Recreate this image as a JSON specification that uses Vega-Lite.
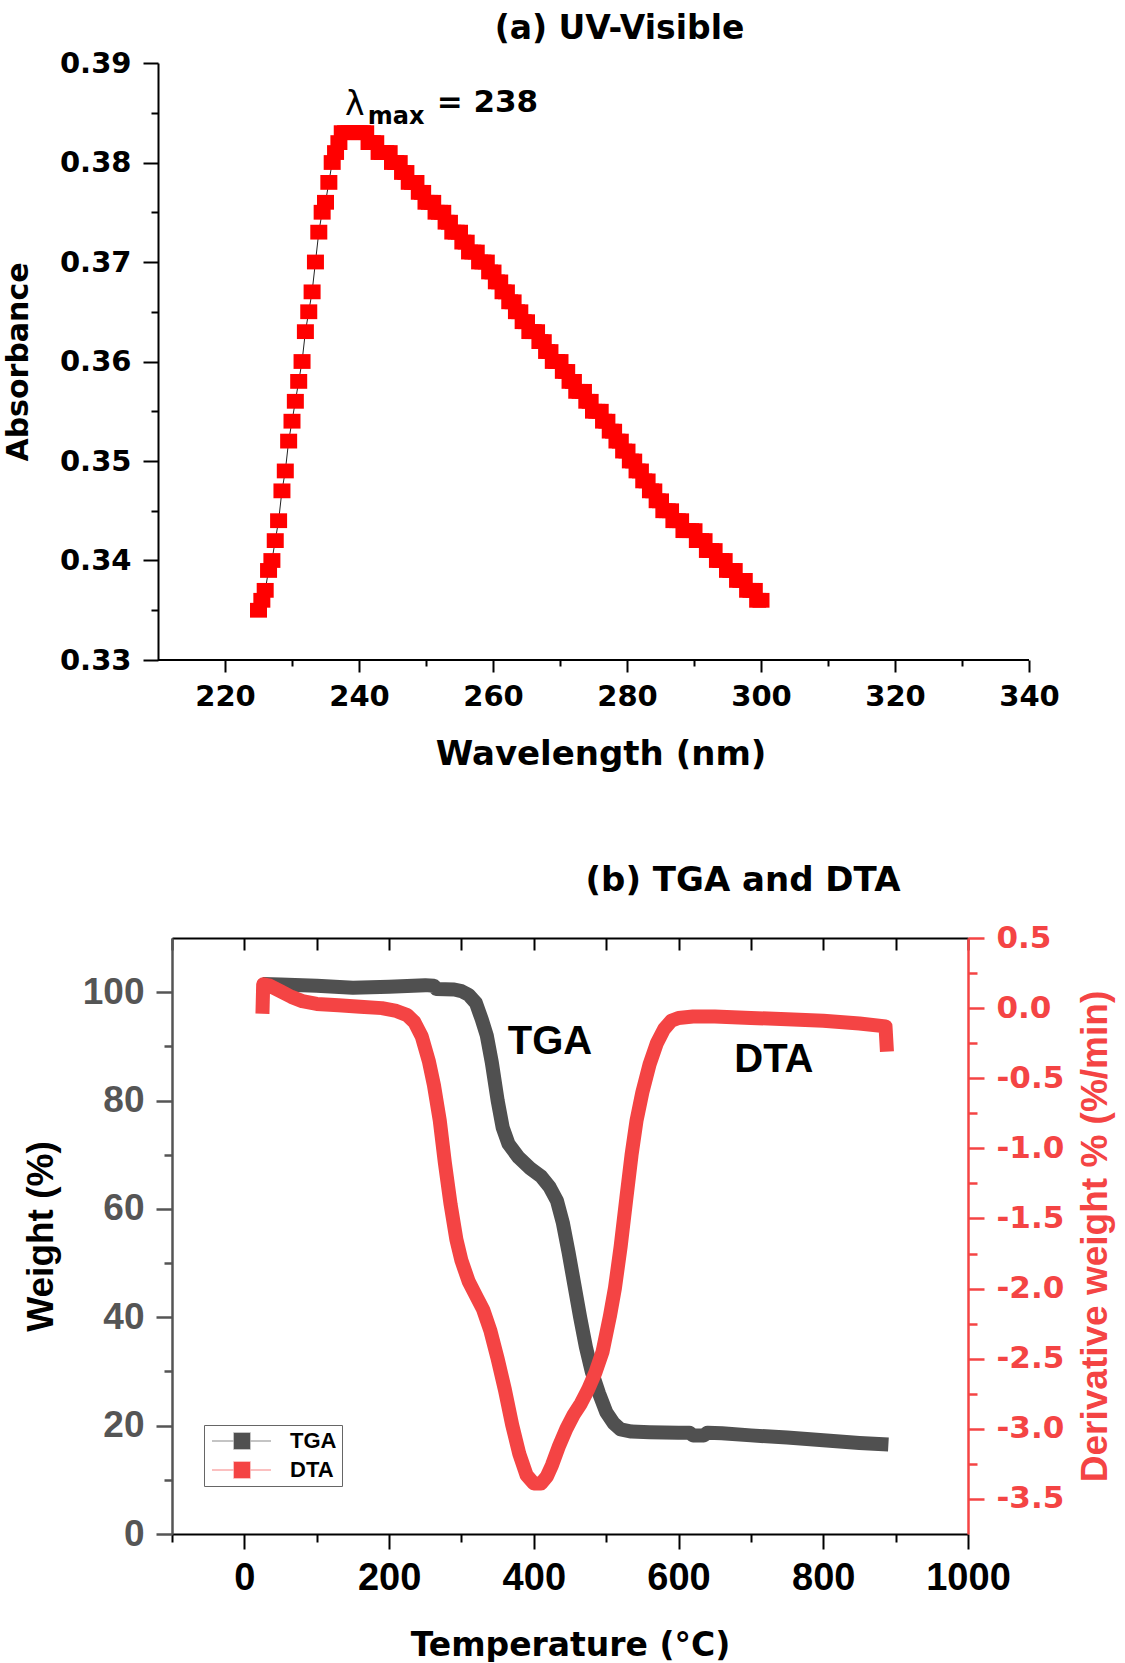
{
  "$schema": "https://vega.github.io/schema/vega-lite/v6.json",
  "background": "white",
  "padding": {"left": 3, "top": 13, "right": 3, "bottom": 0},
  "spacing": 93,
  "config": {
    "view": {"stroke": null},
    "axis": {"grid": false, "labelFlush": false, "labelOverlap": false}
  },
  "datasets": {
    "uv": [
      {"nm": 225, "abs": 0.335}, {"nm": 225.5, "abs": 0.336}, {"nm": 226, "abs": 0.337}, {"nm": 226.5, "abs": 0.339},
      {"nm": 227, "abs": 0.340}, {"nm": 227.5, "abs": 0.342}, {"nm": 228, "abs": 0.344}, {"nm": 228.5, "abs": 0.347},
      {"nm": 229, "abs": 0.349}, {"nm": 229.5, "abs": 0.352}, {"nm": 230, "abs": 0.354}, {"nm": 230.5, "abs": 0.356},
      {"nm": 231, "abs": 0.358}, {"nm": 231.5, "abs": 0.360}, {"nm": 232, "abs": 0.363}, {"nm": 232.5, "abs": 0.365},
      {"nm": 233, "abs": 0.367}, {"nm": 233.5, "abs": 0.370}, {"nm": 234, "abs": 0.373}, {"nm": 234.5, "abs": 0.375},
      {"nm": 235, "abs": 0.376}, {"nm": 235.5, "abs": 0.378}, {"nm": 236, "abs": 0.380}, {"nm": 236.5, "abs": 0.381},
      {"nm": 237, "abs": 0.382}, {"nm": 237.5, "abs": 0.383}, {"nm": 238, "abs": 0.383}, {"nm": 238.5, "abs": 0.383},
      {"nm": 239, "abs": 0.383}, {"nm": 239.5, "abs": 0.383}, {"nm": 240, "abs": 0.383}, {"nm": 240.5, "abs": 0.383},
      {"nm": 241, "abs": 0.383}, {"nm": 241.5, "abs": 0.382}, {"nm": 242, "abs": 0.382}, {"nm": 242.5, "abs": 0.382},
      {"nm": 243, "abs": 0.381}, {"nm": 243.5, "abs": 0.381}, {"nm": 244, "abs": 0.381}, {"nm": 244.5, "abs": 0.381},
      {"nm": 245, "abs": 0.380}, {"nm": 245.5, "abs": 0.380}, {"nm": 246, "abs": 0.380}, {"nm": 246.5, "abs": 0.379},
      {"nm": 247, "abs": 0.379}, {"nm": 247.5, "abs": 0.378}, {"nm": 248, "abs": 0.378}, {"nm": 248.5, "abs": 0.378},
      {"nm": 249, "abs": 0.377}, {"nm": 249.5, "abs": 0.377}, {"nm": 250, "abs": 0.376}, {"nm": 250.5, "abs": 0.376},
      {"nm": 251, "abs": 0.376}, {"nm": 251.5, "abs": 0.375}, {"nm": 252, "abs": 0.375}, {"nm": 252.5, "abs": 0.375},
      {"nm": 253, "abs": 0.374}, {"nm": 253.5, "abs": 0.374}, {"nm": 254, "abs": 0.373}, {"nm": 254.5, "abs": 0.373},
      {"nm": 255, "abs": 0.373}, {"nm": 255.5, "abs": 0.372}, {"nm": 256, "abs": 0.372}, {"nm": 256.5, "abs": 0.371},
      {"nm": 257, "abs": 0.371}, {"nm": 257.5, "abs": 0.371}, {"nm": 258, "abs": 0.370}, {"nm": 258.5, "abs": 0.370},
      {"nm": 259, "abs": 0.370}, {"nm": 259.5, "abs": 0.369}, {"nm": 260, "abs": 0.369}, {"nm": 260.5, "abs": 0.368},
      {"nm": 261, "abs": 0.368}, {"nm": 261.5, "abs": 0.367}, {"nm": 262, "abs": 0.367}, {"nm": 262.5, "abs": 0.366},
      {"nm": 263, "abs": 0.366}, {"nm": 263.5, "abs": 0.365}, {"nm": 264, "abs": 0.365}, {"nm": 264.5, "abs": 0.364},
      {"nm": 265, "abs": 0.364}, {"nm": 265.5, "abs": 0.363}, {"nm": 266, "abs": 0.363}, {"nm": 266.5, "abs": 0.363},
      {"nm": 267, "abs": 0.362}, {"nm": 267.5, "abs": 0.362}, {"nm": 268, "abs": 0.361}, {"nm": 268.5, "abs": 0.361},
      {"nm": 269, "abs": 0.360}, {"nm": 269.5, "abs": 0.360}, {"nm": 270, "abs": 0.360}, {"nm": 270.5, "abs": 0.359},
      {"nm": 271, "abs": 0.359}, {"nm": 271.5, "abs": 0.358}, {"nm": 272, "abs": 0.358}, {"nm": 272.5, "abs": 0.357},
      {"nm": 273, "abs": 0.357}, {"nm": 273.5, "abs": 0.357}, {"nm": 274, "abs": 0.356}, {"nm": 274.5, "abs": 0.356},
      {"nm": 275, "abs": 0.355}, {"nm": 275.5, "abs": 0.355}, {"nm": 276, "abs": 0.355}, {"nm": 276.5, "abs": 0.354},
      {"nm": 277, "abs": 0.354}, {"nm": 277.5, "abs": 0.353}, {"nm": 278, "abs": 0.353}, {"nm": 278.5, "abs": 0.352},
      {"nm": 279, "abs": 0.352}, {"nm": 279.5, "abs": 0.351}, {"nm": 280, "abs": 0.351}, {"nm": 280.5, "abs": 0.350},
      {"nm": 281, "abs": 0.350}, {"nm": 281.5, "abs": 0.349}, {"nm": 282, "abs": 0.349}, {"nm": 282.5, "abs": 0.348},
      {"nm": 283, "abs": 0.348}, {"nm": 283.5, "abs": 0.347}, {"nm": 284, "abs": 0.347}, {"nm": 284.5, "abs": 0.346},
      {"nm": 285, "abs": 0.346}, {"nm": 285.5, "abs": 0.345}, {"nm": 286, "abs": 0.345}, {"nm": 286.5, "abs": 0.345},
      {"nm": 287, "abs": 0.344}, {"nm": 287.5, "abs": 0.344}, {"nm": 288, "abs": 0.344}, {"nm": 288.5, "abs": 0.343},
      {"nm": 289, "abs": 0.343}, {"nm": 289.5, "abs": 0.343}, {"nm": 290, "abs": 0.343}, {"nm": 290.5, "abs": 0.342},
      {"nm": 291, "abs": 0.342}, {"nm": 291.5, "abs": 0.342}, {"nm": 292, "abs": 0.341}, {"nm": 292.5, "abs": 0.341},
      {"nm": 293, "abs": 0.341}, {"nm": 293.5, "abs": 0.340}, {"nm": 294, "abs": 0.340}, {"nm": 294.5, "abs": 0.340},
      {"nm": 295, "abs": 0.339}, {"nm": 295.5, "abs": 0.339}, {"nm": 296, "abs": 0.339}, {"nm": 296.5, "abs": 0.338},
      {"nm": 297, "abs": 0.338}, {"nm": 297.5, "abs": 0.338}, {"nm": 298, "abs": 0.337}, {"nm": 298.5, "abs": 0.337},
      {"nm": 299, "abs": 0.337}, {"nm": 299.5, "abs": 0.336}, {"nm": 300, "abs": 0.336}
    ],
    "tga": [
      {"T": 25, "W": 101.5}, {"T": 50, "W": 101.4}, {"T": 100, "W": 101.2}, {"T": 150, "W": 100.8},
      {"T": 200, "W": 101.0}, {"T": 250, "W": 101.3}, {"T": 262, "W": 101.2}, {"T": 265, "W": 100.6},
      {"T": 290, "W": 100.5}, {"T": 300, "W": 100.2}, {"T": 310, "W": 99.5}, {"T": 320, "W": 98.0},
      {"T": 328, "W": 95.0}, {"T": 335, "W": 92.0}, {"T": 342, "W": 87.0}, {"T": 350, "W": 80.0},
      {"T": 357, "W": 75.0}, {"T": 365, "W": 72.0}, {"T": 379, "W": 69.5}, {"T": 395, "W": 67.5},
      {"T": 410, "W": 66.0}, {"T": 422, "W": 64.0}, {"T": 432, "W": 61.5}, {"T": 440, "W": 57.5},
      {"T": 448, "W": 52.0}, {"T": 456, "W": 46.0}, {"T": 464, "W": 40.0}, {"T": 472, "W": 34.5},
      {"T": 480, "W": 30.0}, {"T": 490, "W": 26.0}, {"T": 500, "W": 22.5}, {"T": 510, "W": 20.5},
      {"T": 520, "W": 19.3}, {"T": 535, "W": 18.9}, {"T": 560, "W": 18.8}, {"T": 600, "W": 18.7},
      {"T": 615, "W": 18.7}, {"T": 620, "W": 18.2}, {"T": 635, "W": 18.2}, {"T": 640, "W": 18.7},
      {"T": 660, "W": 18.6}, {"T": 700, "W": 18.2}, {"T": 750, "W": 17.8}, {"T": 800, "W": 17.3},
      {"T": 850, "W": 16.8}, {"T": 890, "W": 16.5}
    ],
    "dta": [
      {"T": 25, "D": -0.04}, {"T": 26, "D": 0.17}, {"T": 35, "D": 0.16}, {"T": 50, "D": 0.12},
      {"T": 65, "D": 0.08}, {"T": 80, "D": 0.05}, {"T": 100, "D": 0.03}, {"T": 130, "D": 0.02},
      {"T": 160, "D": 0.01}, {"T": 190, "D": 0.0}, {"T": 210, "D": -0.02}, {"T": 225, "D": -0.05},
      {"T": 235, "D": -0.1}, {"T": 245, "D": -0.2}, {"T": 255, "D": -0.38}, {"T": 262, "D": -0.55},
      {"T": 270, "D": -0.8}, {"T": 277, "D": -1.1}, {"T": 285, "D": -1.4}, {"T": 293, "D": -1.65},
      {"T": 300, "D": -1.8}, {"T": 310, "D": -1.95}, {"T": 320, "D": -2.05}, {"T": 330, "D": -2.15},
      {"T": 340, "D": -2.3}, {"T": 350, "D": -2.5}, {"T": 360, "D": -2.72}, {"T": 370, "D": -2.97},
      {"T": 380, "D": -3.18}, {"T": 390, "D": -3.33}, {"T": 400, "D": -3.39}, {"T": 410, "D": -3.39},
      {"T": 418, "D": -3.34}, {"T": 425, "D": -3.26}, {"T": 435, "D": -3.12}, {"T": 445, "D": -3.0},
      {"T": 455, "D": -2.9}, {"T": 465, "D": -2.82}, {"T": 475, "D": -2.72}, {"T": 485, "D": -2.6},
      {"T": 495, "D": -2.45}, {"T": 505, "D": -2.2}, {"T": 512, "D": -2.0}, {"T": 520, "D": -1.7},
      {"T": 528, "D": -1.35}, {"T": 535, "D": -1.05}, {"T": 542, "D": -0.8}, {"T": 550, "D": -0.6},
      {"T": 560, "D": -0.4}, {"T": 570, "D": -0.25}, {"T": 580, "D": -0.15}, {"T": 590, "D": -0.09},
      {"T": 600, "D": -0.07}, {"T": 620, "D": -0.06}, {"T": 650, "D": -0.06}, {"T": 700, "D": -0.07},
      {"T": 750, "D": -0.08}, {"T": 800, "D": -0.09}, {"T": 850, "D": -0.11}, {"T": 886, "D": -0.13},
      {"T": 888, "D": -0.31}
    ]
  },
  "vconcat": [
    {
      "width": 857,
      "height": 597,
      "title": {"text": "(a) UV-Visible", "font": "DejaVu Sans", "fontSize": 33, "fontWeight": "bold", "color": "black", "anchor": "middle", "frame": "group", "dx": 19, "offset": 3},
      "resolve": {"axis": {"x": "independent", "y": "independent"}},
      "layer": [
        {
          "data": {"name": "uv"},
          "mark": {"type": "line", "color": "#222222", "strokeWidth": 1},
          "encoding": {
            "x": {"field": "nm", "type": "quantitative", "scale": {"domain": [212.09, 340], "nice": false, "zero": false},
              "axis": {"orient": "bottom", "values": [220, 240, 260, 280, 300, 320, 340], "tickSize": 12, "tickWidth": 2, "tickColor": "black", "domain": false,
                "labelFont": "DejaVu Sans", "labelFontSize": 29, "labelFontWeight": "bold", "labelColor": "black", "labelPadding": 10,
                "title": "Wavelength (nm)", "titleFont": "DejaVu Sans", "titleFontSize": 34, "titleFontWeight": "bold", "titleColor": "black", "titlePadding": 26}},
            "y": {"field": "abs", "type": "quantitative", "scale": {"domain": [0.33, 0.39], "nice": false, "zero": false},
              "axis": {"orient": "left", "offset": 14, "values": [0.33, 0.34, 0.35, 0.36, 0.37, 0.38, 0.39], "format": ".2f", "tickSize": 15, "tickWidth": 2, "tickColor": "black", "domainWidth": 2, "domainColor": "black",
                "labelFont": "DejaVu Sans", "labelFontSize": 29, "labelFontWeight": "bold", "labelColor": "black", "labelPadding": 12,
                "title": "Absorbance", "titleFont": "DejaVu Sans", "titleFontSize": 30, "titleFontWeight": "bold", "titleColor": "black", "titlePadding": 26}}
          }
        },
        {
          "data": {"name": "uv"},
          "mark": {"type": "point", "shape": "M-1,-0.87H1V0.87H-1Z", "filled": true, "color": "#ff0000", "size": 289, "opacity": 1},
          "encoding": {
            "x": {"field": "nm", "type": "quantitative",
              "axis": {"orient": "bottom", "values": [210, 230, 250, 270, 290, 310, 330], "tickSize": 6, "tickWidth": 2, "tickColor": "black", "domain": false, "labels": false, "title": null}},
            "y": {"field": "abs", "type": "quantitative",
              "axis": {"orient": "left", "offset": 14, "values": [0.335, 0.345, 0.355, 0.365, 0.375, 0.385], "tickSize": 7, "tickWidth": 2, "tickColor": "black", "domain": false, "labels": false, "title": null}}
          }
        },
        {
          "data": {"values": [{}]},
          "mark": {"type": "rule", "color": "black", "strokeWidth": 2},
          "encoding": {"x": {"datum": 210, "type": "quantitative", "axis": null}, "x2": {"datum": 340}, "y": {"datum": 0.33, "type": "quantitative", "axis": null}}
        },
        {
          "data": {"values": [{}]},
          "mark": {"type": "text", "text": "λ", "font": "DejaVu Sans", "fontSize": 33, "align": "left", "baseline": "alphabetic", "color": "black"},
          "encoding": {"x": {"datum": 237.9, "type": "quantitative", "axis": null}, "y": {"datum": 0.3848, "type": "quantitative", "axis": null}}
        },
        {
          "data": {"values": [{}]},
          "mark": {"type": "text", "text": "max", "font": "DejaVu Sans", "fontSize": 24, "fontWeight": "bold", "align": "left", "baseline": "alphabetic", "color": "black"},
          "encoding": {"x": {"datum": 241.3, "type": "quantitative", "axis": null}, "y": {"datum": 0.3839, "type": "quantitative", "axis": null}}
        },
        {
          "data": {"values": [{}]},
          "mark": {"type": "text", "text": "= 238", "font": "DejaVu Sans", "fontSize": 31, "fontWeight": "bold", "align": "left", "baseline": "alphabetic", "color": "black"},
          "encoding": {"x": {"datum": 251.6, "type": "quantitative", "axis": null}, "y": {"datum": 0.3851, "type": "quantitative", "axis": null}}
        }
      ]
    },
    {
      "width": 796,
      "height": 596,
      "title": {"text": "(b) TGA and DTA", "font": "DejaVu Sans", "fontSize": 34, "fontWeight": "bold", "color": "black", "anchor": "middle", "frame": "group", "dx": 173, "offset": 24},
      "resolve": {"scale": {"y": "independent"}, "axis": {"x": "independent", "y": "independent"}},
      "layer": [
        {
          "resolve": {"axis": {"x": "independent", "y": "independent"}},
          "layer": [
            {
              "data": {"name": "tga"},
              "mark": {"type": "line", "strokeWidth": 14, "strokeJoin": "round", "strokeCap": "butt"},
              "encoding": {
                "x": {"field": "T", "type": "quantitative", "scale": {"domain": [-100, 1000], "nice": false, "zero": false},
                  "axis": {"orient": "bottom", "values": [0, 200, 400, 600, 800, 1000], "format": "d", "tickSize": 15, "tickWidth": 2, "tickColor": "black", "domainWidth": 2, "domainColor": "black",
                    "labelFont": "Liberation Sans", "labelFontSize": 38, "labelFontWeight": "bold", "labelColor": "black", "labelPadding": 10,
                    "title": "Temperature (°C)", "titleFont": "DejaVu Sans", "titleFontSize": 33, "titleFontWeight": "bold", "titleColor": "black", "titlePadding": 32}},
                "y": {"field": "W", "type": "quantitative", "scale": {"domain": [0, 110], "nice": false, "zero": false},
                  "axis": {"orient": "left", "values": [0, 20, 40, 60, 80, 100], "tickSize": 16, "tickWidth": 2.5, "tickColor": "#555555", "domainWidth": 2.5, "domainColor": "#555555",
                    "labelFont": "Liberation Sans", "labelFontSize": 37, "labelFontWeight": "bold", "labelColor": "#555555", "labelPadding": 12,
                    "title": "Weight (%)", "titleFont": "Liberation Sans", "titleFontSize": 37, "titleFontWeight": "bold", "titleColor": "black", "titlePadding": 22}},
                "color": {"datum": "TGA", "type": "nominal",
                  "scale": {"domain": ["TGA", "DTA"], "range": ["#505050", "#f44444"]},
                  "legend": {"orient": "none", "legendX": 32, "legendY": 1362, "title": null, "strokeColor": "#666666", "padding": 5,
                    "symbolType": "M-1,0H1.75M3.75,0H6.375M1.75,-1H3.75V1H1.75Z", "symbolSize": 256, "symbolStrokeWidth": 1.5,
                    "labelFont": "Liberation Sans", "labelFontSize": 22, "labelFontWeight": "bold", "labelColor": "black", "labelOffset": 59, "rowPadding": 7,
                    "encode": {"symbols": {"update": {"fill": {"scale": "color", "field": "value"}, "strokeOpacity": {"value": 0.45}, "opacity": {"value": 1}}}}}}
              }
            },
            {
              "data": {"name": "tga"},
              "mark": {"type": "line", "opacity": 0},
              "encoding": {
                "x": {"field": "T", "type": "quantitative",
                  "axis": {"orient": "bottom", "values": [-100, 100, 300, 500, 700, 900], "tickSize": 8, "tickWidth": 2, "tickColor": "black", "domain": false, "labels": false, "title": null}},
                "y": {"field": "W", "type": "quantitative",
                  "axis": {"orient": "left", "values": [10, 30, 50, 70, 90], "tickSize": 8, "tickWidth": 2.5, "tickColor": "#555555", "domain": false, "labels": false, "title": null}}
              }
            },
            {
              "data": {"name": "tga"},
              "mark": {"type": "line", "opacity": 0},
              "encoding": {
                "x": {"field": "T", "type": "quantitative",
                  "axis": {"orient": "top", "values": [-100, 0, 100, 200, 300, 400, 500, 600, 700, 800, 900, 1000], "tickSize": -12, "tickWidth": 2, "tickColor": "black", "domainWidth": 2, "domainColor": "black", "labels": false, "title": null}},
                "y": {"field": "W", "type": "quantitative", "axis": null}
              }
            },
            {
              "data": {"values": [{}]},
              "mark": {"type": "text", "text": "TGA", "font": "Liberation Sans", "fontSize": 40, "fontWeight": "bold", "align": "left", "baseline": "alphabetic", "color": "black"},
              "encoding": {"x": {"datum": 364, "type": "quantitative", "axis": null}, "y": {"datum": 88.6, "type": "quantitative", "axis": null}}
            },
            {
              "data": {"values": [{}]},
              "mark": {"type": "text", "text": "DTA", "font": "Liberation Sans", "fontSize": 40, "fontWeight": "bold", "align": "left", "baseline": "alphabetic", "color": "black"},
              "encoding": {"x": {"datum": 677, "type": "quantitative", "axis": null}, "y": {"datum": 85.3, "type": "quantitative", "axis": null}}
            }
          ]
        },
        {
          "resolve": {"axis": {"x": "independent", "y": "independent"}},
          "layer": [
            {
              "data": {"name": "dta"},
              "mark": {"type": "line", "strokeWidth": 14, "strokeJoin": "round", "strokeCap": "butt"},
              "encoding": {
                "x": {"field": "T", "type": "quantitative", "axis": null},
                "y": {"field": "D", "type": "quantitative", "scale": {"domain": [-3.75, 0.5], "nice": false, "zero": false},
                  "axis": {"orient": "right", "values": [-3.5, -3, -2.5, -2, -1.5, -1, -0.5, 0, 0.5], "format": ".1f", "labelExpr": "replace(datum.label, '\u2212', '-')",
                    "tickSize": 16, "tickWidth": 2.5, "tickColor": "#f44444", "domainWidth": 2.5, "domainColor": "#f44444",
                    "labelFont": "DejaVu Sans", "labelFontSize": 31, "labelFontWeight": "bold", "labelColor": "#f44444", "labelPadding": 12,
                    "title": "Derivative weight % (%/min)", "titleFont": "Liberation Sans", "titleFontSize": 37, "titleFontWeight": "bold", "titleColor": "#f44444", "titleAngle": 270, "titleBaseline": "top", "titlePadding": 14}},
                "color": {"datum": "DTA", "type": "nominal"}
              }
            },
            {
              "data": {"name": "dta"},
              "mark": {"type": "line", "opacity": 0},
              "encoding": {
                "x": {"field": "T", "type": "quantitative", "axis": null},
                "y": {"field": "D", "type": "quantitative",
                  "axis": {"orient": "right", "values": [-3.25, -2.75, -2.25, -1.75, -1.25, -0.75, -0.25, 0.25], "tickSize": 9, "tickWidth": 2.5, "tickColor": "#f44444", "domain": false, "labels": false, "title": null}}
              }
            }
          ]
        }
      ]
    }
  ]
}
